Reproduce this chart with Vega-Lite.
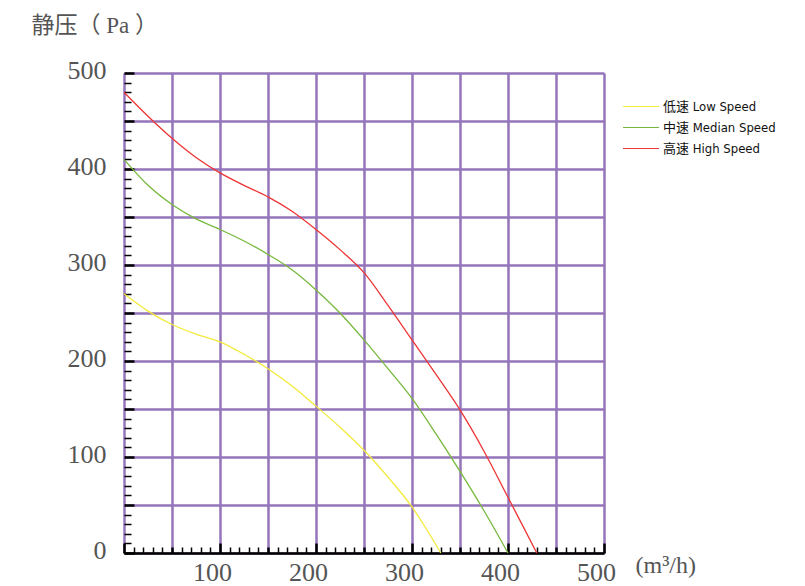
{
  "$schema": "https://vega.github.io/schema/vega-lite/v6.json",
  "autosize": {"type": "none"},
  "padding": {"left": 124, "top": 73, "right": 201, "bottom": 33},
  "width": 480,
  "height": 480,
  "background": "#ffffff",
  "config": {"view": {"stroke": null}},
  "data": {
    "values": [
      {"speed": "低速 Low Speed", "flow": 0, "pressure": 270},
      {"speed": "低速 Low Speed", "flow": 25, "pressure": 252},
      {"speed": "低速 Low Speed", "flow": 50, "pressure": 238},
      {"speed": "低速 Low Speed", "flow": 75, "pressure": 228},
      {"speed": "低速 Low Speed", "flow": 100, "pressure": 220},
      {"speed": "低速 Low Speed", "flow": 125, "pressure": 207},
      {"speed": "低速 Low Speed", "flow": 150, "pressure": 192},
      {"speed": "低速 Low Speed", "flow": 175, "pressure": 174},
      {"speed": "低速 Low Speed", "flow": 200, "pressure": 153},
      {"speed": "低速 Low Speed", "flow": 225, "pressure": 131},
      {"speed": "低速 Low Speed", "flow": 250, "pressure": 107},
      {"speed": "低速 Low Speed", "flow": 275, "pressure": 79},
      {"speed": "低速 Low Speed", "flow": 300, "pressure": 48},
      {"speed": "低速 Low Speed", "flow": 315, "pressure": 25},
      {"speed": "低速 Low Speed", "flow": 330, "pressure": 0},
      {"speed": "中速 Median Speed", "flow": 0, "pressure": 410},
      {"speed": "中速 Median Speed", "flow": 25, "pressure": 383},
      {"speed": "中速 Median Speed", "flow": 50, "pressure": 363},
      {"speed": "中速 Median Speed", "flow": 75, "pressure": 348},
      {"speed": "中速 Median Speed", "flow": 100, "pressure": 337},
      {"speed": "中速 Median Speed", "flow": 125, "pressure": 325},
      {"speed": "中速 Median Speed", "flow": 150, "pressure": 311},
      {"speed": "中速 Median Speed", "flow": 175, "pressure": 295},
      {"speed": "中速 Median Speed", "flow": 200, "pressure": 274},
      {"speed": "中速 Median Speed", "flow": 225, "pressure": 250},
      {"speed": "中速 Median Speed", "flow": 250, "pressure": 222},
      {"speed": "中速 Median Speed", "flow": 275, "pressure": 192},
      {"speed": "中速 Median Speed", "flow": 300, "pressure": 161},
      {"speed": "中速 Median Speed", "flow": 325, "pressure": 124},
      {"speed": "中速 Median Speed", "flow": 350, "pressure": 85},
      {"speed": "中速 Median Speed", "flow": 375, "pressure": 44},
      {"speed": "中速 Median Speed", "flow": 400, "pressure": 0},
      {"speed": "高速 High Speed", "flow": 0, "pressure": 480},
      {"speed": "高速 High Speed", "flow": 25, "pressure": 455},
      {"speed": "高速 High Speed", "flow": 50, "pressure": 432},
      {"speed": "高速 High Speed", "flow": 75, "pressure": 412},
      {"speed": "高速 High Speed", "flow": 100, "pressure": 396},
      {"speed": "高速 High Speed", "flow": 125, "pressure": 383},
      {"speed": "高速 High Speed", "flow": 150, "pressure": 371},
      {"speed": "高速 High Speed", "flow": 175, "pressure": 356},
      {"speed": "高速 High Speed", "flow": 200, "pressure": 337},
      {"speed": "高速 High Speed", "flow": 225, "pressure": 316},
      {"speed": "高速 High Speed", "flow": 250, "pressure": 292},
      {"speed": "高速 High Speed", "flow": 275, "pressure": 258},
      {"speed": "高速 High Speed", "flow": 300, "pressure": 222},
      {"speed": "高速 High Speed", "flow": 325, "pressure": 186},
      {"speed": "高速 High Speed", "flow": 350, "pressure": 149},
      {"speed": "高速 High Speed", "flow": 375, "pressure": 106},
      {"speed": "高速 High Speed", "flow": 400, "pressure": 58},
      {"speed": "高速 High Speed", "flow": 415, "pressure": 29},
      {"speed": "高速 High Speed", "flow": 430, "pressure": 0}
    ]
  },
  "mark": {"type": "line", "interpolate": "monotone", "strokeWidth": 1.3},
  "encoding": {
    "x": {
      "field": "flow",
      "type": "quantitative",
      "scale": {"domain": [0, 500], "nice": false, "zero": false},
      "axis": {
        "values": [0,10,20,30,40,50,60,70,80,90,100,110,120,130,140,150,160,170,180,190,200,210,220,230,240,250,260,270,280,290,300,310,320,330,340,350,360,370,380,390,400,410,420,430,440,450,460,470,480,490,500],
        "grid": true,
        "gridColor": "#9474bb",
        "gridWidth": 2.5,
        "gridOpacity": {"condition": {"test": "datum.value % 50 === 0", "value": 1}, "value": 0},
        "ticks": true,
        "tickColor": "#000000",
        "tickSize": {"condition": {"test": "datum.value % 100 === 0", "value": -10}, "value": -6},
        "tickWidth": {"condition": {"test": "datum.value % 50 === 0", "value": 2.5}, "value": 1.5},
        "domain": true,
        "domainColor": "#000000",
        "domainWidth": 2.5,
        "labelExpr": "datum.value % 100 === 0 && datum.value > 0 ? datum.label : ''",
        "labelFont": "Liberation Serif",
        "labelFontSize": 26,
        "labelColor": "#555555",
        "labelPadding": 16,
        "labelOffset": -8,
        "labelOverlap": false,
        "labelFlush": false,
        "labelBound": false,
        "title": "(m³/h)",
        "titleX": 511,
        "titleY": 12,
        "titleAngle": 0,
        "titleAlign": "left",
        "titleBaseline": "middle",
        "titleFont": "Liberation Serif",
        "titleFontSize": 24,
        "titleFontWeight": "normal",
        "titleColor": "#555555"
      }
    },
    "y": {
      "field": "pressure",
      "type": "quantitative",
      "scale": {"domain": [0, 500], "nice": false, "zero": false},
      "axis": {
        "values": [0,10,20,30,40,50,60,70,80,90,100,110,120,130,140,150,160,170,180,190,200,210,220,230,240,250,260,270,280,290,300,310,320,330,340,350,360,370,380,390,400,410,420,430,440,450,460,470,480,490,500],
        "grid": true,
        "gridColor": "#9474bb",
        "gridWidth": 2.5,
        "gridOpacity": {"condition": {"test": "datum.value % 50 === 0", "value": 1}, "value": 0},
        "ticks": true,
        "tickColor": "#000000",
        "tickSize": {"condition": {"test": "datum.value % 50 === 0", "value": -10}, "value": -7},
        "tickWidth": {"condition": {"test": "datum.value % 50 === 0", "value": 2.5}, "value": 1.5},
        "domain": false,
        "labelExpr": "datum.value % 100 === 0 ? datum.label : ''",
        "labelFont": "Liberation Serif",
        "labelFontSize": 26,
        "labelColor": "#555555",
        "labelPadding": 28,
        "labelBaseline": "middle",
        "labelOffset": -3,
        "labelOverlap": false,
        "labelFlush": false,
        "labelBound": false,
        "title": "静压（ Pa ）",
        "titleX": -93,
        "titleY": -48,
        "titleAngle": 0,
        "titleAlign": "left",
        "titleBaseline": "middle",
        "titleFont": "Liberation Serif, Noto Sans CJK SC",
        "titleFontSize": 23,
        "titleFontWeight": "normal",
        "titleColor": "#555555"
      }
    },
    "color": {
      "field": "speed",
      "type": "nominal",
      "sort": null,
      "scale": {
        "domain": ["低速 Low Speed", "中速 Median Speed", "高速 High Speed"],
        "range": ["#f3ea3a", "#77b83c", "#ee3535"]
      },
      "legend": {
        "orient": "none",
        "legendX": 498,
        "legendY": 23,
        "title": null,
        "symbolType": "stroke",
        "symbolSize": 1296,
        "symbolStrokeWidth": 1.2,
        "clipHeight": 21,
        "rowPadding": 0,
        "padding": 0,
        "symbolOffset": 0,
        "labelOffset": 3,
        "labelFont": "Liberation Sans Narrow, DejaVu Sans Condensed, Roboto, Noto Sans CJK SC",
        "labelFontSize": 13,
        "labelColor": "#111111",
        "labelLimit": 300
      }
    }
  }
}
